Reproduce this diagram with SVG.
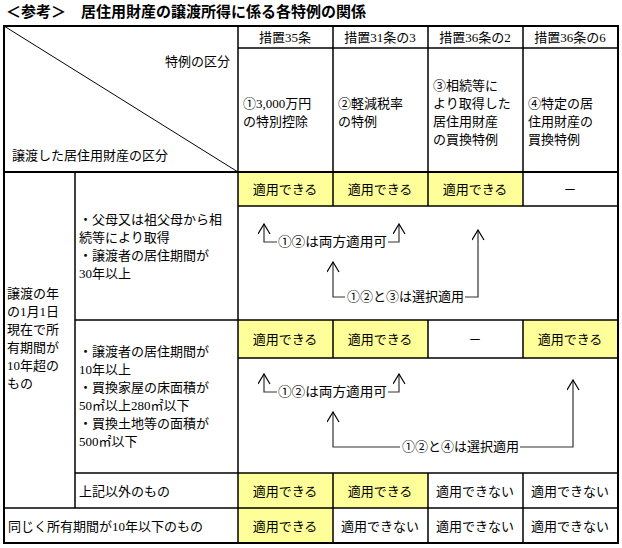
<svg xmlns="http://www.w3.org/2000/svg" width="622" height="548" viewBox="0 0 622 548">
<style>
text{font-family:"Liberation Serif","Noto Sans CJK JP",serif;font-size:13px;fill:#000}
.c{text-anchor:middle}
.y{fill:#ffff99}
.ln{stroke:#000;stroke-width:1.5;fill:none}
.a{stroke:#333;stroke-width:1.2;fill:none}
</style>
<defs><marker id="ah" markerWidth="12" markerHeight="14" refX="11" refY="6" orient="auto" markerUnits="userSpaceOnUse"><path d="M1,0 L11,6 L1,12" fill="none" stroke="#000" stroke-width="1.2"/></marker></defs>
<text x="6" y="17" style="font-size:15px;font-weight:bold">＜参考＞　居住用財産の譲渡所得に係る各特例の関係</text>
<g id="fills">
<rect class="y" x="238" y="172" width="285" height="34"/>
<rect class="y" x="238" y="320" width="190" height="38"/>
<rect class="y" x="523" y="320" width="95" height="38"/>
<rect class="y" x="238" y="473" width="190" height="35"/>
<rect class="y" x="238" y="508" width="95" height="35"/>
</g>
<g id="grid" class="ln">
<rect x="4" y="26" width="614" height="517" stroke-width="2"/>
<line x1="238" y1="26" x2="238" y2="543"/>
<path d="M333,26V206M333,320V358M333,473V543M428,26V206M428,320V358M428,473V543M523,26V206M523,320V358M523,473V543"/>
<line x1="238" y1="48" x2="618" y2="48"/>
<line x1="4" y1="172" x2="618" y2="172" stroke-width="2"/>
<line x1="75" y1="172" x2="75" y2="508"/>
<line x1="238" y1="206" x2="618" y2="206"/>
<line x1="75" y1="320" x2="618" y2="320"/>
<line x1="238" y1="358" x2="618" y2="358"/>
<line x1="75" y1="473" x2="618" y2="473"/>
<line x1="4" y1="508" x2="618" y2="508"/>
<line x1="4" y1="26" x2="238" y2="172" stroke-width="1"/>
</g>
<g id="header">
<text x="230" y="66" text-anchor="end">特例の区分</text>
<text x="12" y="160">譲渡した居住用財産の区分</text>
<text class="c" x="285" y="42">措置35条</text>
<text class="c" x="380" y="42">措置31条の3</text>
<text class="c" x="475" y="42">措置36条の2</text>
<text class="c" x="570" y="42">措置36条の6</text>
<text x="243" y="108">①3,000万円</text><text x="243" y="126">の特別控除</text>
<text x="338" y="108">②軽減税率</text><text x="338" y="126">の特例</text>
<text x="433" y="90">③相続等に</text><text x="433" y="108">より取得した</text><text x="433" y="126">居住用財産</text><text x="433" y="144">の買換特例</text>
<text x="528" y="108">④特定の居</text><text x="528" y="126">住用財産の</text><text x="528" y="144">買換特例</text>
</g>
<g id="left">
<text x="7" y="298">譲渡の年</text><text x="7" y="316">の1月1日</text><text x="7" y="334">現在で所</text><text x="7" y="352">有期間が</text><text x="7" y="370">10年超の</text><text x="7" y="388">もの</text>
<text x="79" y="224">・父母又は祖父母から相</text><text x="79" y="242">続等により取得</text><text x="79" y="260">・譲渡者の居住期間が</text><text x="79" y="278">30年以上</text>
<text x="79" y="356">・譲渡者の居住期間が</text><text x="79" y="374">10年以上</text><text x="79" y="392">・買換家屋の床面積が</text><text x="79" y="410">50㎡以上280㎡以下</text><text x="79" y="428">・買換土地等の面積が</text><text x="79" y="446">500㎡以下</text>
<text x="79" y="496">上記以外のもの</text>
<text x="8" y="531">同じく所有期間が10年以下のもの</text>
</g>
<g id="cells">
<text class="c" x="285" y="194">適用できる</text><text class="c" x="380" y="194">適用できる</text><text class="c" x="475" y="194">適用できる</text><text class="c" x="570" y="194">－</text>
<text class="c" x="285" y="344">適用できる</text><text class="c" x="380" y="344">適用できる</text><text class="c" x="475" y="344">－</text><text class="c" x="570" y="344">適用できる</text>
<text class="c" x="285" y="496">適用できる</text><text class="c" x="380" y="496">適用できる</text><text class="c" x="475" y="496">適用できない</text><text class="c" x="570" y="496">適用できない</text>
<text class="c" x="285" y="531">適用できる</text><text class="c" x="380" y="531">適用できない</text><text class="c" x="475" y="531">適用できない</text><text class="c" x="570" y="531">適用できない</text>
</g>
<g id="connectors" class="a">
<polyline points="277,242 264,242 264,224" marker-end="url(#ah)"/>
<polyline points="388,242 399,242 399,224" marker-end="url(#ah)"/>
<polyline points="345,297 333,297 333,262" marker-end="url(#ah)"/>
<polyline points="465,297 478,297 478,230" marker-end="url(#ah)"/>
<polyline points="277,392 264,392 264,374" marker-end="url(#ah)"/>
<polyline points="388,392 399,392 399,374" marker-end="url(#ah)"/>
<polyline points="400,447 333,447 333,412" marker-end="url(#ah)"/>
<polyline points="520,447 573,447 573,380" marker-end="url(#ah)"/>
</g>
<g id="labels" style="font-size:12px">
<text x="278" y="246" textLength="109" lengthAdjust="spacingAndGlyphs">①②は両方適用可</text>
<text x="347" y="301" textLength="117" lengthAdjust="spacingAndGlyphs">①②と③は選択適用</text>
<text x="278" y="396" textLength="109" lengthAdjust="spacingAndGlyphs">①②は両方適用可</text>
<text x="402" y="451" textLength="117" lengthAdjust="spacingAndGlyphs">①②と④は選択適用</text>
</g>
</svg>
